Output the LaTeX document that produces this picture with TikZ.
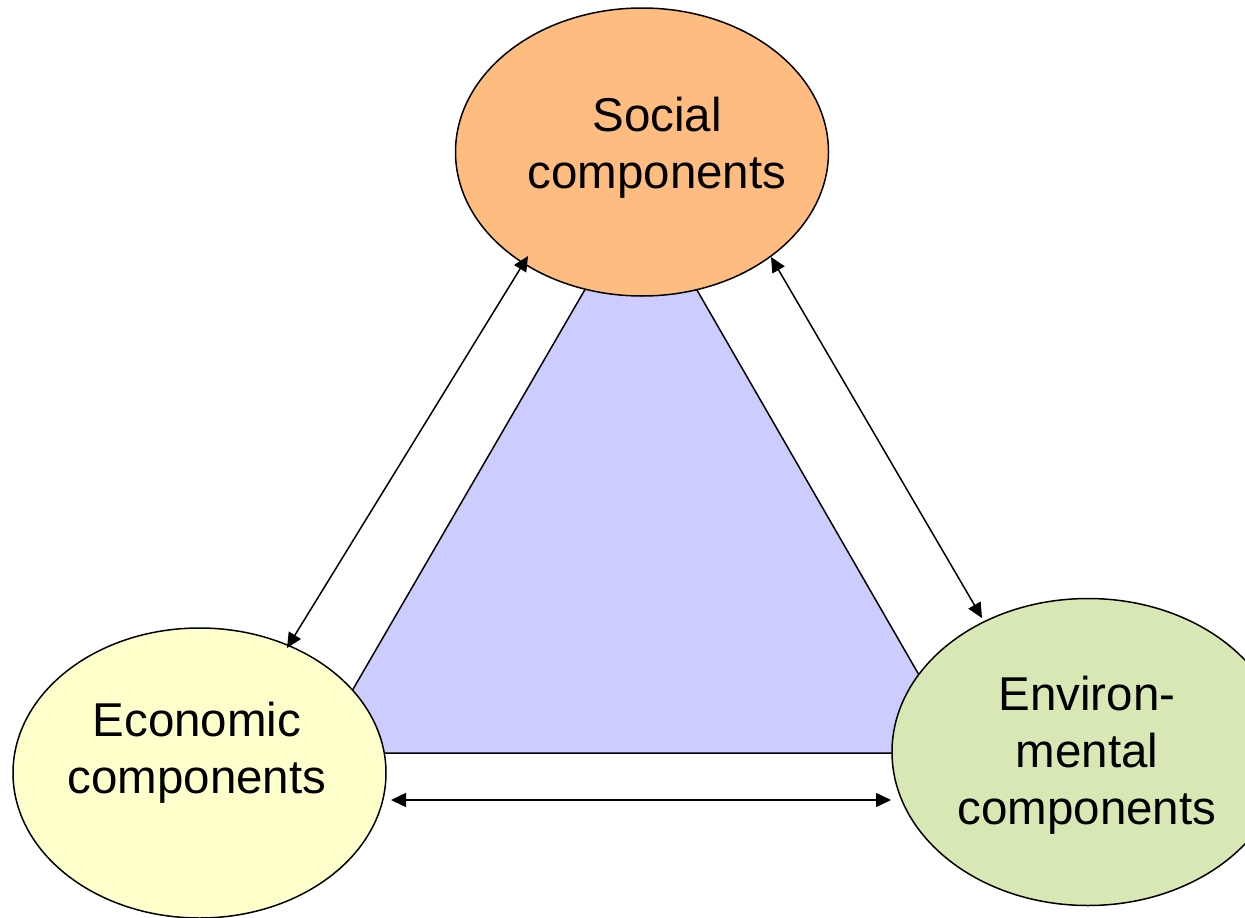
\documentclass[tikz,border=0pt]{standalone}
\usepackage{fontspec}
\setmainfont{Liberation Sans}
\usetikzlibrary{shapes.geometric,arrows.meta}
\definecolor{socfill}{RGB}{255,188,128}
\definecolor{ecofill}{RGB}{255,255,204}
\definecolor{envfill}{RGB}{216,232,180}
\definecolor{trifill}{RGB}{204,204,255}
\tikzset{
  blob/.style={ellipse, draw=black, line width=1.5pt, inner sep=0pt},
  lbl/.style={align=center, anchor=north, inner sep=0pt, font={\fontsize{47.5}{57}\selectfont}},
  biarrow/.style={line width=1.5pt, {Triangle[length=15pt,width=14pt]}-{Triangle[length=15pt,width=14pt]}},
  tri/.style={fill=trifill, draw=black, line width=1.5pt}
}
\begin{document}
\begin{tikzpicture}[x=1pt,y=-1pt]
\useasboundingbox (0,0) rectangle (1245,918);
\clip (0,0) rectangle (1245,918);
% triangle
\coordinate (tA) at (641,193);
\coordinate (tB) at (316,753);
\coordinate (tC) at (964,753);
\draw[tri] (tA) -- (tB) -- (tC) -- cycle;
% ellipses
\node[blob, fill=socfill, minimum width=373pt, minimum height=288pt] (soc) at (642,152) {};
\node[blob, fill=ecofill, minimum width=373pt, minimum height=290pt] (eco) at (199.5,773) {};
\node[blob, fill=envfill, minimum width=392pt, minimum height=307pt] (env) at (1088,752) {};
% arrow ends
\coordinate (s1) at (528,256);
\coordinate (e1) at (287,648);
\coordinate (s2) at (771,257);
\coordinate (v1) at (982,618);
\coordinate (e2) at (391,800);
\coordinate (v2) at (891,800);
\draw[biarrow] (s1) -- (e1);
\draw[biarrow] (s2) -- (v1);
\draw[biarrow] (e2) -- (v2);
% labels
\node[lbl] (soct) at (657,97) {Social\\components};
\node[lbl] (ecot) at (197,702) {Economic\\components};
\node[lbl] (envt) at (1087,676) {Environ-\\mental\\components};
\end{tikzpicture}
\end{document}
